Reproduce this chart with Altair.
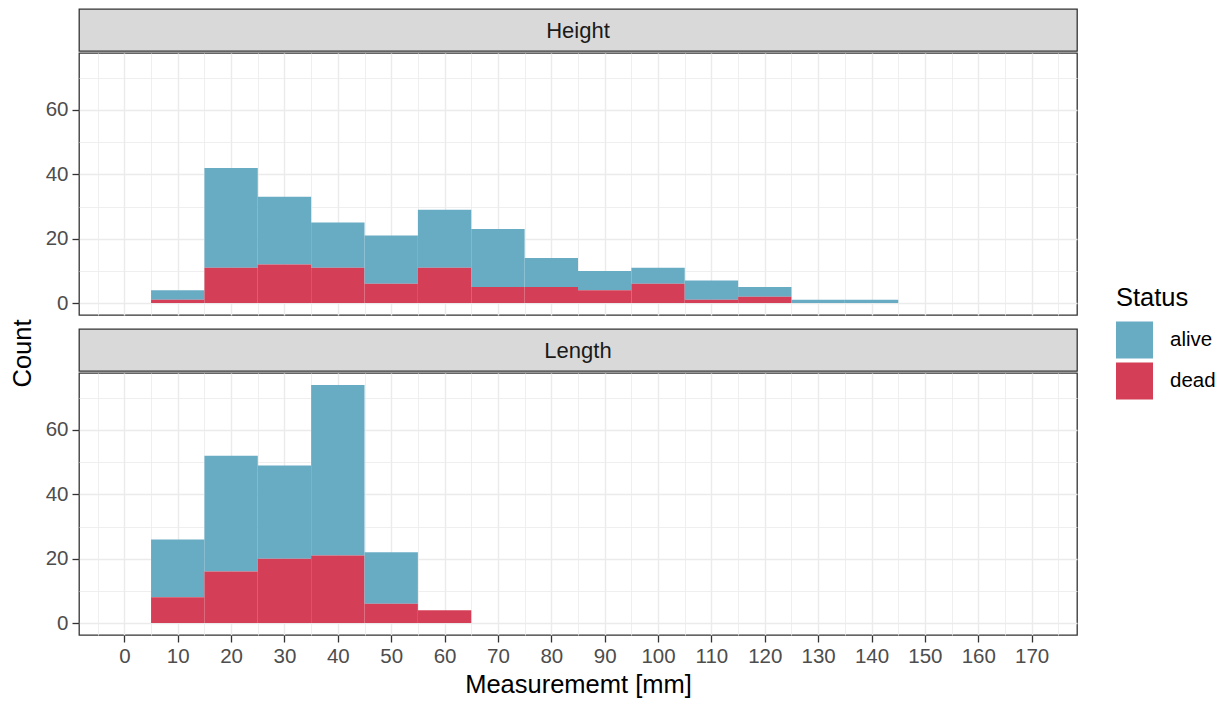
import altair as alt
import pandas as pd

# ---- data ----
statuses = ["alive", "dead"]
status_colors = ["#68ACC4", "#D43F57"]
bin_width = 10

height_bin_starts = [5, 15, 25, 35, 45, 55, 65, 75, 85, 95, 105, 115, 125, 135]
height_alive = [3, 31, 21, 14, 15, 18, 18, 9, 6, 5, 6, 3, 1, 1]
height_dead = [1, 11, 12, 11, 6, 11, 5, 5, 4, 6, 1, 2, 0, 0]

length_bin_starts = [5, 15, 25, 35, 45, 55]
length_alive = [18, 36, 29, 53, 16, 0]
length_dead = [8, 16, 20, 21, 6, 4]

x_tick_labels = list(range(0, 171, 10))
x_grid_values = list(range(-5, 176, 5))
y_tick_labels = [0, 20, 40, 60]
y_grid_values = list(range(0, 71, 10))

FONT = "Liberation Sans"
PANEL_W = 998
PANEL_H = 262
STRIP_H = 42


def build_df(measure, starts, alive, dead):
    rows = []
    for s, a, d in zip(starts, alive, dead):
        rows.append({"measure": measure, "bin_start": s, "bin_end": s + bin_width,
                     "status": "alive", "count": a, "order": 1})
        rows.append({"measure": measure, "bin_start": s, "bin_end": s + bin_width,
                     "status": "dead", "count": d, "order": 0})
    return pd.DataFrame(rows)


df_height = build_df("Height", height_bin_starts, height_alive, height_dead)
df_length = build_df("Length", length_bin_starts, length_alive, length_dead)

major_grid_w = 1.4
minor_grid_w = 0.8


def panel(d, show_x):
    if show_x:
        x_axis = alt.Axis(
            values=x_grid_values,
            labelExpr="datum.value % 10 == 0 ? datum.label : ''",
            tickOpacity={"condition": {"test": "datum.value % 10 == 0", "value": 1}, "value": 0},
            gridWidth={"condition": {"test": "datum.value % 10 == 0", "value": major_grid_w}, "value": minor_grid_w},
            grid=True, labelOverlap=False, labelFlush=False,
            title="Measurememt [mm]", titlePadding=6, labelPadding=4,
        )
    else:
        x_axis = alt.Axis(
            values=x_grid_values, labels=False, ticks=False, domain=False, title=None,
            gridWidth={"condition": {"test": "datum.value % 10 == 0", "value": major_grid_w}, "value": minor_grid_w},
            grid=True,
        )
    y_axis = alt.Axis(
        values=y_grid_values,
        labelExpr="datum.value % 20 == 0 ? datum.label : ''",
        tickOpacity={"condition": {"test": "datum.value % 20 == 0", "value": 1}, "value": 0},
        gridWidth={"condition": {"test": "datum.value % 20 == 0", "value": major_grid_w}, "value": minor_grid_w},
        grid=True, labelOverlap=False, labelFlush=False, title=None, labelPadding=4,
    )
    return alt.Chart(d).transform_stack(
        stack="count", groupby=["bin_start"], as_=["y_lo", "y_hi"],
        sort=[alt.SortField("order", order="ascending")],
    ).mark_bar(strokeWidth=0, opacity=1).encode(
        x=alt.X("bin_start:Q", scale=alt.Scale(domain=[-8.5, 178.5], nice=False, zero=False), axis=x_axis),
        x2="bin_end:Q",
        y=alt.Y("y_lo:Q", scale=alt.Scale(domain=[-3.7, 77.7], nice=False, zero=False), axis=y_axis),
        y2="y_hi:Q",
        color=alt.Color("status:N", scale=alt.Scale(domain=statuses, range=status_colors),
                        legend=alt.Legend(title="Status")),
    ).properties(
        width=PANEL_W, height=PANEL_H,
        view=alt.ViewBackground(fill="white", stroke="#333333", strokeWidth=1.3),
    )


def strip(label):
    return alt.Chart(pd.DataFrame({"label": [label]})).mark_text(
        font=FONT, fontSize=22, color="#1A1A1A", baseline="middle", align="center"
    ).encode(
        text="label:N", x=alt.value(PANEL_W / 2), y=alt.value(STRIP_H / 2 + 1)
    ).properties(
        width=PANEL_W, height=STRIP_H,
        view=alt.ViewBackground(fill="#D9D9D9", stroke="#333333", strokeWidth=1.3),
    )


top = alt.vconcat(strip("Height"), panel(df_height, False), spacing=0)
bottom = alt.vconcat(strip("Length"), panel(df_length, True), spacing=0)

chart = alt.vconcat(top, bottom, spacing=12).properties(
    title=alt.TitleParams("Count", orient="left", anchor="middle", font=FONT, fontSize=25.5,
                          fontWeight="normal", color="black", offset=8),
    padding={"left": 11, "top": 8, "right": 5, "bottom": 2},
    background="white",
).configure_axis(
    labelFont=FONT, labelFontSize=20.5, labelColor="#4D4D4D",
    tickColor="#333333", tickWidth=1.3, tickSize=7,
    domain=False, gridColor="#EBEBEB",
    titleFont=FONT, titleFontSize=25.5, titleColor="black", titleFontWeight="normal",
).configure_legend(
    orient="none", legendX=1037, legendY=277,
    titleFont=FONT, titleFontSize=25.5, titleFontWeight="normal", titleColor="black",
    labelFont=FONT, labelFontSize=20.5, labelColor="black",
    symbolType="square", symbolSize=1369, symbolStrokeWidth=0, symbolOpacity=1,
    labelOffset=17, rowPadding=4, titlePadding=10,
)

chart.save("out.html", embed_options={"renderer": "svg", "actions": False})
